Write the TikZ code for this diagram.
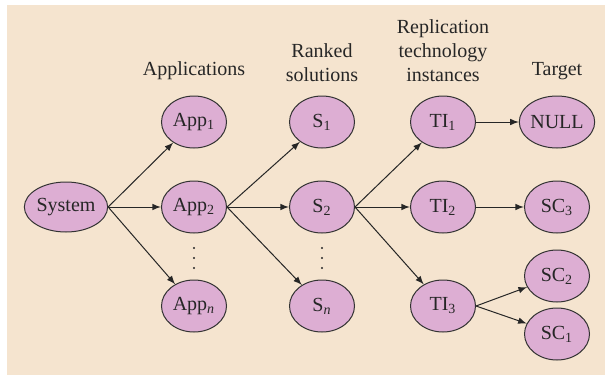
\documentclass[tikz,border=0pt]{standalone}
\usepackage{fontspec}
\setmainfont{Liberation Serif}
\usetikzlibrary{%
  arrows,%
  shapes.geometric%
}
\tikzset{>=latex}
\definecolor{bgsand}{RGB}{245,228,207}
\definecolor{nodepink}{RGB}{221,174,211}
\newcommand{\lowidx}[1]{\textsubscript{#1}}
\tikzset{
  blob/.style={ellipse,draw=black!80,line width=0.5pt,fill=nodepink,
    minimum width=32.5pt,minimum height=26pt,inner sep=0pt,
    font=\fontsize{10}{12}\selectfont,text=black!85},
  head/.style={align=center,font=\fontsize{10}{12}\selectfont,text=black!85},
  link/.style={->,line width=0.5pt,black!85}
}

\begin{document}
\begin{tikzpicture}[x=0.5pt,y=-0.5pt]
    \useasboundingbox (0,0) rectangle (605,375);
    \fill[bgsand] (7,5) rectangle (605,375);
    % column headings
    \node[head] (happ) at (194,71) {Applications};
    \node[head] (hsol) at (322,63) {Ranked\\solutions};
    \node[head] (hrep) at (443,51) {Replication\\technology\\instances};
    \node[head] (htar) at (557,71) {Target};
    % nodes
    \node[blob,minimum width=40pt,minimum height=25pt] (sys) at (66,207) {System};
    \node[blob] (app1) at (194,122) {App\lowidx{1}};
    \node[blob] (app2) at (194,207) {App\lowidx{2}};
    \node[blob] (appn) at (194,306) {App\lowidx{\textit{n}}};
    \node[blob] (s1) at (322,122) {S\lowidx{1}};
    \node[blob] (s2) at (322,207) {S\lowidx{2}};
    \node[blob] (sn) at (322,306) {S\lowidx{\textit{n}}};
    \node[blob] (ti1) at (443,122) {TI\lowidx{1}};
    \node[blob] (ti2) at (443,207) {TI\lowidx{2}};
    \node[blob] (ti3) at (443,306) {TI\lowidx{3}};
    \node[blob,minimum width=33pt] (null) at (557,122) {NULL};
    \node[blob] (sc3) at (557,207) {SC\lowidx{3}};
    \node[blob] (sc2) at (557,276) {SC\lowidx{2}};
    \node[blob] (sc1) at (557,334) {SC\lowidx{1}};
    % vertical dots
    \foreach \y in {248,258,268} {
        \fill[black!85] (194,\y) circle (0.6pt);
        \fill[black!85] (322,\y) circle (0.6pt);
    }
    % connectors
    \draw[link] (sys.east) -- (app1);
    \draw[link] (sys.east) -- (app2);
    \draw[link] (sys.east) -- (appn);
    \draw[link] (app2.east) -- (s1);
    \draw[link] (app2.east) -- (s2);
    \draw[link] (app2.east) -- (sn);
    \draw[link] (s2.east) -- (ti1);
    \draw[link] (s2.east) -- (ti2);
    \draw[link] (s2.east) -- (ti3);
    \draw[link] (ti1) -- (null);
    \draw[link] (ti2) -- (sc3);
    \draw[link] (ti3.east) -- (sc2);
    \draw[link] (ti3.east) -- (sc1);
\end{tikzpicture}
\end{document}
